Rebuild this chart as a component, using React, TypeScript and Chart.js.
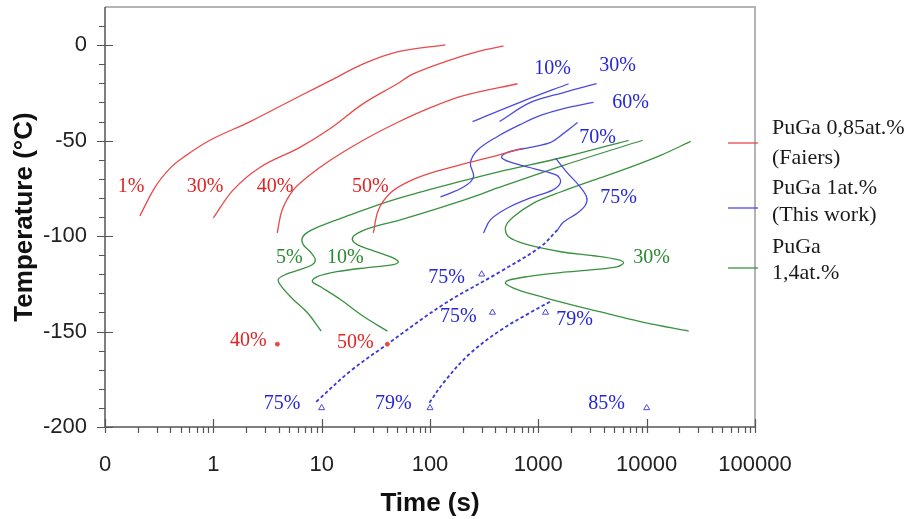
import React, { useEffect, useRef } from 'react';
import { Chart, registerables } from 'chart.js';

Chart.register(...registerables);

// ---------- axes ----------
const xTickValues = [0.1, 1, 10, 100, 1000, 10000, 100000];
const xTickLabels = ['0', '1', '10', '100', '1000', '10000', '100000'];
const yTickValues = [-200, -150, -100, -50, 0];

// ---------- PuGa 0,85at.% (Faiers) : red ----------
const red1Time = [0.21, 0.29, 0.4, 0.53, 0.93, 2.19, 6.3, 12, 24.2, 50, 139];
const red1Temp = [-89.4, -74.3, -64.4, -58.7, -49.8, -40, -26.6, -18.6, -9.8, -3.5, 0.2];
const red2Time = [1.0, 1.52, 2.71, 6.3, 12, 24.2, 50, 70, 145, 292, 477];
const red2Temp = [-90.5, -75.9, -63.9, -53.5, -43.6, -30.6, -20.2, -15, -8.2, -3, -0.4];
const red3Time = [3.89, 4.32, 5.46, 7.36, 12, 24.2, 50, 101, 204, 642];
const red3Temp = [-98.3, -86.3, -75.9, -69.1, -60.3, -49.8, -40.5, -32.7, -26.4, -20.2];
const red4Time = [30, 33.4, 43, 62, 101, 236, 420, 714];
const red4Temp = [-98.3, -86.3, -77.4, -71.7, -67, -61.3, -57.7, -54];
const redDotTime = [3.9, 40.4];
const redDotTemp = [-156.6, -156.6];

// ---------- PuGa 1at.% (This work) : blue ----------
const blue10Time = [247, 685, 1901];
const blue10Temp = [-40, -29.8, -20.2];
const blue30Time = [438, 847, 1710, 3450];
const blue30Temp = [-40, -30, -24.8, -20.2];
const blue60Time = [125, 204, 252, 236, 274, 420, 685, 1048, 1710, 3236];
const blue60Temp = [-79.5, -74.3, -69.1, -61.8, -55, -47.8, -41.5, -36.8, -33.2, -30];
const blue70Time = [312, 361, 519, 847, 1353, 1604, 1473, 942, 553, 457, 519, 847, 1297, 1710, 2303];
const blue70Temp = [-98.3, -91.5, -85.3, -80, -75.9, -71.7, -68.1, -64.9, -61.3, -58.7, -56.1, -53.5, -50.9, -46.2, -40.5];
const blue75Time = [1442, 1862, 2353, 2789, 2725, 2303, 1710, 1504];
const blue75Temp = [-59.2, -67, -73.3, -79.5, -83.7, -87.9, -92.6, -96.7];
const dash75Time = [1504, 1048, 447, 133, 40.4, 18.4, 8.9];
const dash75Temp = [-96.7, -105.6, -118.6, -135.8, -156.6, -170.7, -186.8];
const dash79Time = [98.7, 133, 226, 447, 847, 1297];
const dash79Temp = [-187.3, -176.9, -162.3, -149.3, -140, -134.2];
const triTime = [10, 100, 10000, 300, 377, 1166];
const triTemp = [-190, -190, -190, -120, -140, -140];

// ---------- PuGa 1,4at.% : green ----------
const green5Time = [9.9, 7.36, 5.46, 4.32, 3.97, 4.61, 6.3, 8.19, 8.73, 7.85, 6.76, 6.62, 7.52, 10.4, 18.4, 37.1, 76.5, 154, 420, 1710, 6820];
const green5Temp = [-149.8, -140, -133.2, -126.9, -122.8, -120.2, -117.6, -115, -112.3, -108.2, -104.5, -100.9, -97.8, -94.1, -88.9, -82.7, -77.4, -72.8, -66.5, -58.7, -49.8];
const green10Time = [40.4, 24.2, 14.9, 9.7, 8.19, 9.1, 13.9, 26.4, 45.9, 51, 43, 28.1, 21.3, 19.2, 20.4, 28.1, 53.3, 107, 236, 420, 1710, 9190];
const green10Temp = [-149.8, -142, -133.2, -126.4, -123.8, -121.2, -118.6, -116.5, -115, -113.4, -110.8, -107.1, -104.5, -101.9, -99.3, -95.7, -91.5, -86.3, -80, -74.8, -62.9, -49.8];
const green30Time = [25500, 13460, 6670, 3236, 1604, 903, 590, 498, 531, 794, 1604, 3236, 5395, 6128, 5395, 3236, 1604, 794, 519, 498, 642, 1117, 2303, 4645, 9380, 24430];
const green30Temp = [-50.4, -57.7, -64.4, -70.7, -76.9, -82.7, -89.9, -95.2, -100.4, -104.5, -108.2, -110.3, -112.3, -113.9, -116, -117.6, -119.1, -121.2, -123.3, -124.8, -128, -132.1, -136.8, -141, -145.2, -149.8];

// ---------- curve labels ----------
const labelTexts = ['1%', '30%', '40%', '50%', '40%', '50%',
  '10%', '30%', '60%', '70%', '75%', '75%', '75%', '79%', '75%', '79%', '85%',
  '5%', '10%', '30%'];
const labelTimes = [0.174, 0.84, 3.72, 28.1, 2.1, 20.4,
  1353, 5395, 7110, 3524, 5510, 142, 183, 2163, 4.32, 45.9, 4266,
  5.02, 16.5, 11120];
const labelTemps = [-74.3, -74.3, -74.3, -74.3, -155, -156,
  -12.3, -10.8, -30, -48.3, -80, -121.7, -142.5, -143.6, -187.9, -187.9, -187.9,
  -111.3, -111.3, -111.3];
const labelSeries = [0, 0, 0, 0, 0, 0, 1, 1, 1, 1, 1, 1, 1, 1, 1, 1, 1, 2, 2, 2];

const legendLines = [['PuGa 0,85at.%', '(Faiers)'], ['PuGa 1at.%', '(This work)'], ['PuGa', '1,4at.%']];

const lineColors = ['#e84a4a', '#4a4ae0', '#3a9140'];
const textColors = ['#e02424', '#2626d6', '#2a8a30'];

const pts = (xs: number[], ys: number[]) => xs.map((x, i) => ({ x, y: ys[i] }));

const curve = (xs: number[], ys: number[], color: string, extra: any = {}) => ({
  data: pts(xs, ys),
  showLine: true,
  borderColor: color,
  backgroundColor: color,
  borderWidth: 1.3,
  pointRadius: 0,
  tension: 0.35,
  ...extra,
});

const SANS = '"Liberation Sans", Arial, sans-serif';
const SERIF = '"Liberation Serif", "Times New Roman", serif';

const decorPlugin = {
  id: 'decor',
  afterDraw(chart: any) {
    const ctx = chart.ctx as CanvasRenderingContext2D;
    const { left, right, top, bottom } = chart.chartArea;
    const xs = chart.scales.x;
    const ys = chart.scales.y;
    ctx.save();
    // frame (top / right)
    ctx.strokeStyle = '#b4b4b4';
    ctx.lineWidth = 2;
    ctx.beginPath();
    ctx.moveTo(left, top);
    ctx.lineTo(right, top);
    ctx.lineTo(right, bottom);
    ctx.stroke();
    // axes
    ctx.strokeStyle = '#555';
    ctx.lineWidth = 1.5;
    ctx.beginPath();
    ctx.moveTo(left, top);
    ctx.lineTo(left, bottom);
    ctx.lineTo(right, bottom);
    ctx.stroke();
    // y ticks
    ctx.lineWidth = 1.2;
    ctx.beginPath();
    for (let v = -200; v <= 10; v += 10) {
      const py = Math.round(ys.getPixelForValue(v)) + 0.5;
      if (v % 50 === 0) {
        ctx.moveTo(left - 8, py);
        ctx.lineTo(left + 8, py);
      } else {
        ctx.moveTo(left - 6, py);
        ctx.lineTo(left, py);
      }
    }
    // x ticks
    for (let d = -1; d <= 5; d++) {
      const base = Math.pow(10, d);
      const px = Math.round(xs.getPixelForValue(base)) + 0.5;
      ctx.moveTo(px, bottom - 8);
      ctx.lineTo(px, bottom + 6);
      if (d < 5) {
        for (let m = 2; m <= 9; m++) {
          const mx = Math.round(xs.getPixelForValue(m * base)) + 0.5;
          ctx.moveTo(mx, bottom);
          ctx.lineTo(mx, bottom + 6);
        }
      }
    }
    ctx.stroke();

    // curve labels
    ctx.font = `20px ${SERIF}`;
    ctx.textAlign = 'center';
    ctx.textBaseline = 'middle';
    labelTexts.forEach((t, i) => {
      ctx.fillStyle = textColors[labelSeries[i]];
      ctx.fillText(t, xs.getPixelForValue(labelTimes[i]), ys.getPixelForValue(labelTemps[i]));
    });

    // legend (outside the plot, at the right)
    const legendLineY = [143, 208, 268];
    const legendTextY = [[128, 158], [188, 215], [247, 273]];
    ctx.font = `22px ${SERIF}`;
    ctx.textAlign = 'left';
    legendLines.forEach((lines, i) => {
      ctx.strokeStyle = lineColors[i];
      ctx.lineWidth = 1.3;
      ctx.beginPath();
      ctx.moveTo(right - 27, legendLineY[i]);
      ctx.lineTo(right + 3, legendLineY[i]);
      ctx.stroke();
      ctx.fillStyle = '#1a1a1a';
      ctx.fillText(lines[0], right + 17, legendTextY[i][0]);
      ctx.fillText(lines[1], right + 17, legendTextY[i][1]);
    });
    ctx.restore();
  },
};

export default function App() {
  const ref = useRef<HTMLCanvasElement>(null);
  useEffect(() => {
    if (!ref.current) return;
    const dashed = { borderDash: [3.5, 2.5], borderWidth: 1.8 };
    const chart = new Chart(ref.current, {
      type: 'scatter',
      data: {
        datasets: [
          curve(red1Time, red1Temp, lineColors[0]),
          curve(red2Time, red2Temp, lineColors[0]),
          curve(red3Time, red3Temp, lineColors[0]),
          curve(red4Time, red4Temp, lineColors[0]),
          {
            data: pts(redDotTime, redDotTemp),
            showLine: false,
            pointRadius: 2,
            pointStyle: 'circle',
            borderColor: lineColors[0],
            backgroundColor: lineColors[0],
            borderWidth: 1,
          },
          curve(blue10Time, blue10Temp, lineColors[1]),
          curve(blue30Time, blue30Temp, lineColors[1]),
          curve(blue60Time, blue60Temp, lineColors[1]),
          curve(blue70Time, blue70Temp, lineColors[1]),
          curve(blue75Time, blue75Temp, lineColors[1]),
          curve(dash75Time, dash75Temp, '#3a3ad8', dashed),
          curve(dash79Time, dash79Temp, '#3a3ad8', dashed),
          {
            data: pts(triTime, triTemp),
            showLine: false,
            pointRadius: 3.5,
            pointStyle: 'triangle',
            borderColor: lineColors[1],
            backgroundColor: 'rgba(0,0,0,0)',
            borderWidth: 1,
          },
          curve(green5Time, green5Temp, lineColors[2]),
          curve(green10Time, green10Temp, lineColors[2]),
          curve(green30Time, green30Temp, lineColors[2]),
        ] as any,
      },
      options: {
        responsive: false,
        maintainAspectRatio: false,
        devicePixelRatio: 1,
        animation: false,
        layout: { padding: { left: 0, top: 7, right: 162, bottom: 0 } },
        plugins: { legend: { display: false }, tooltip: { enabled: false } },
        scales: {
          x: {
            type: 'logarithmic',
            position: 'bottom',
            min: 0.1,
            max: 100000,
            afterBuildTicks: (s: any) => {
              s.ticks = xTickValues.map((v) => ({ value: v }));
            },
            afterFit: (s: any) => {
              s.height = 92;
              s.paddingLeft = 0;
              s.paddingRight = 0;
            },
            ticks: {
              autoSkip: false,
              maxRotation: 0,
              padding: 25,
              color: '#222',
              font: { family: SANS, size: 22 },
              callback: (_v: any, i: number) => xTickLabels[i],
            },
            grid: { display: false, drawTicks: false },
            border: { display: false },
            title: {
              display: true,
              text: 'Time (s)',
              color: '#111',
              font: { family: SANS, size: 26, weight: 'bold' },
              padding: { top: 0, bottom: 0 },
            },
          },
          y: {
            type: 'linear',
            min: -200,
            max: 20,
            afterBuildTicks: (s: any) => {
              s.ticks = yTickValues.map((v) => ({ value: v }));
            },
            afterFit: (s: any) => {
              s.width = 105;
              s.paddingTop = 0;
              s.paddingBottom = 0;
            },
            ticks: {
              autoSkip: false,
              padding: 18,
              color: '#222',
              font: { family: SANS, size: 22 },
              callback: (v: any) => String(v),
            },
            grid: { display: false, drawTicks: false },
            border: { display: false },
            title: {
              display: true,
              text: 'Temperature (°C)',
              color: '#111',
              font: { family: SANS, size: 26, weight: 'bold' },
              padding: { top: 9, bottom: 0 },
            },
          },
        },
      } as any,
      plugins: [decorPlugin],
    });
    return () => chart.destroy();
  }, []);

  return (
    <div style={{ position: 'fixed', left: 0, top: 0, width: 917, height: 519, background: '#fff' }}>
      <canvas ref={ref} width={917} height={519} style={{ display: 'block', width: 917, height: 519 }} />
    </div>
  );
}
